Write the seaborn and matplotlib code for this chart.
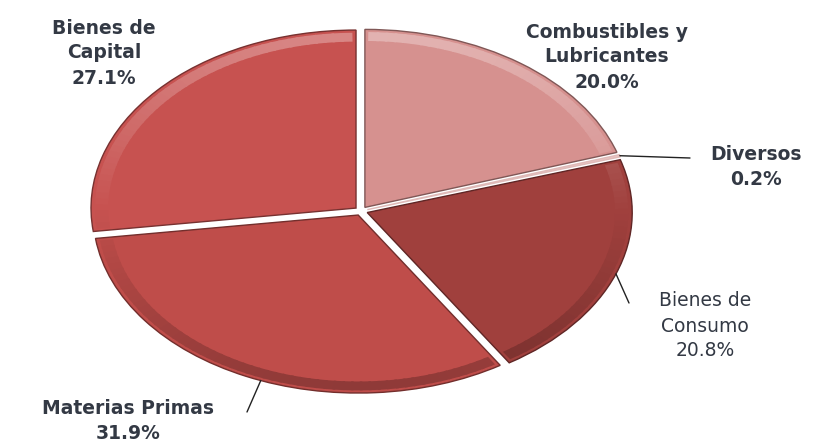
import numpy as np
import matplotlib
matplotlib.use("Agg")
import matplotlib.pyplot as plt
from matplotlib.patches import Wedge
import seaborn as sns

# Import shares by category (percent)
categories = ["Combustibles y\nLubricantes", "Diversos", "Bienes de\nConsumo",
              "Materias Primas", "Bienes de\nCapital"]
shares = [20.0, 0.2, 20.8, 31.9, 27.1]
slice_colors = ["#D6918F", "#EBC4C2", "#A0403D", "#BF4D4A", "#C75250"]

sns.set_theme(style="white")
plt.rcParams["font.family"] = ["DejaVu Sans"]

W, H = 821, 443
fig = plt.figure(figsize=(W / 100, H / 100), dpi=100)
ax = fig.add_axes([0, 0, 1, 1])

# Elliptical pie: different pixel scale on x and y
cx, cy, rx, ry = 361, 211, 265, 178

wedges, _ = ax.pie(shares, colors=slice_colors, startangle=90, counterclock=False,
                   explode=[0.025] * len(shares), radius=1.0,
                   wedgeprops=dict(linewidth=1.0))
ax.set_aspect("auto")
ax.set_xlim(-cx / rx, (W - cx) / rx)
ax.set_ylim(-(H - cy) / ry, cy / ry)
ax.axis("off")


def shade(hex_color, f):
    rgb = np.array(matplotlib.colors.to_rgb(hex_color))
    if f >= 0:
        rgb = rgb + (1 - rgb) * f
    else:
        rgb = rgb * (1 + f)
    return tuple(np.clip(rgb, 0, 1))


# Bevel look: rim band lit from above, shaded below
step = 2.0
for w, col in zip(wedges, slice_colors):
    w.set_edgecolor(shade(col, -0.4))
    if w.theta2 - w.theta1 < 2:
        w.set_edgecolor(shade(col, -0.05))
        continue
    edges = np.arange(w.theta1 + 0.8, w.theta2 - 0.8, step)
    edges = np.append(edges, w.theta2 - 0.8)
    for a0, a1 in zip(edges[:-1], edges[1:]):
        mid = np.deg2rad(0.5 * (a0 + a1))
        s = np.sin(mid)
        f = 0.3 * s if s > 0 else 0.25 * s
        ax.add_patch(Wedge(w.center, w.r * 0.985, a0, min(a1 + 0.6, w.theta2 - 0.8),
                           width=w.r * 0.05, facecolor=shade(col, f), linewidth=0,
                           zorder=w.get_zorder() + 0.1))


def px(x, y):
    """Pixel position (from top-left) to data coordinates."""
    return (x - cx) / rx, (cy - y) / ry


def edge_point(w, frac):
    ang = np.deg2rad(w.theta1 + frac * (w.theta2 - w.theta1))
    return w.center[0] + w.r * np.cos(ang), w.center[1] + w.r * np.sin(ang)


text_color = "#333944"
label_pos = [(607, 57), (756, 167), (705, 326), (128, 421), (104, 53)]
weights = ["bold", "bold", "normal", "bold", "bold"]

for w, name, val, (lx, ly), wt in zip(wedges, categories, shares, label_pos, weights):
    ax.text(*px(lx, ly), f"{name}\n{val:.1f}%", ha="center", va="center",
            fontsize=13.5, fontweight=wt, color=text_color, linespacing=1.4)

# Leader lines for the labels sitting outside the pie
leaders = {1: (0.5, (690, 158)), 2: (0.5, (629, 303)), 3: (0.53, (247, 412))}
for idx, (frac, (ex, ey)) in leaders.items():
    sx, sy = edge_point(wedges[idx], frac)
    tx, ty = px(ex, ey)
    ax.plot([sx, tx], [sy, ty], color="#222222", linewidth=1.0, zorder=5)

fig.savefig("out.png", dpi=100, facecolor="white")
